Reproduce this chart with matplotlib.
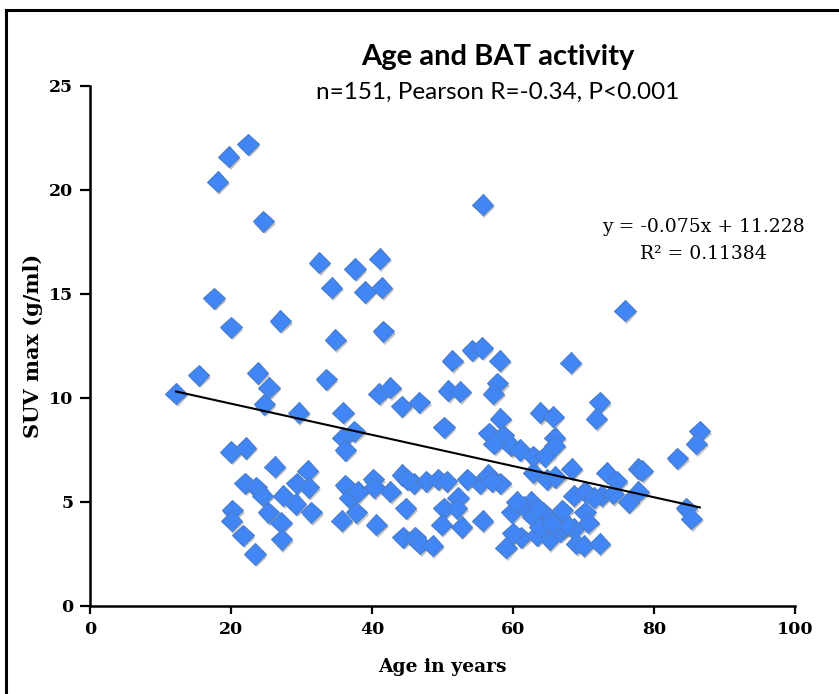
import matplotlib
matplotlib.use("Agg")
import matplotlib.pyplot as plt
import matplotlib.patheffects as pe
from matplotlib.lines import Line2D
import numpy as np

age = [12.2, 15.4, 17.6, 18.1, 19.7, 22.4, 24.6, 20.0, 27.0, 23.8, 25.4, 24.7, 29.6, 20.0, 22.1,
       26.2, 22.0, 23.6, 29.3, 27.4, 29.2, 20.2, 25.3, 27.1, 20.1, 21.7, 27.2, 23.4,
       30.9, 31.0, 31.4, 32.5, 37.6, 41.1, 34.3, 39.0, 41.4, 34.8, 41.6, 33.5, 41.0, 42.6, 44.2,
       46.7, 35.9, 37.5, 35.9, 36.2, 36.2, 36.8, 37.8, 35.7, 40.2, 40.3, 42.6, 40.6, 44.3, 45.9,
       47.7, 49.4, 44.8, 44.4, 46.1, 46.8, 48.6,
       55.7, 51.4, 54.2, 55.6, 58.1, 50.8, 52.5, 57.8, 57.2, 50.2, 58.2, 56.6, 58.6, 59.7, 57.3,
       50.6, 50.2, 52.2, 52.0, 52.7, 49.9, 55.3, 56.5, 58.2, 55.7, 59.8, 59.0,
       61.0, 62.9, 63.9, 65.7, 65.9, 65.9, 64.5, 68.3, 68.2, 62.9, 64.8, 61.2, 62.6, 61.5, 64.3,
       66.4, 68.6, 68.6, 65.2, 63.4, 66.7, 67.1, 62.8, 67.6, 63.8, 69.0,
       75.9, 72.3, 71.8, 86.5, 86.0, 83.3, 77.8, 78.3, 73.3, 74.7, 70.2, 72.6, 74.2, 76.4, 77.8,
       70.2, 70.7, 70.0, 72.3, 84.6, 85.3,
       63.5, 65.5, 60.5, 67.0, 71.5, 53.5, 45.0, 38.0, 24.5, 66.0, 60.0, 57.0]
suv = [10.2, 11.1, 14.8, 20.4, 21.6, 22.2, 18.5, 13.4, 13.7, 11.2, 10.5, 9.7, 9.3, 7.4, 7.6,
       6.7, 5.9, 5.7, 5.9, 5.3, 4.9, 4.6, 4.5, 4.0, 4.1, 3.4, 3.2, 2.5,
       6.5, 5.7, 4.5, 16.5, 16.2, 16.7, 15.3, 15.1, 15.3, 12.8, 13.2, 10.9, 10.2, 10.5, 9.6,
       9.8, 9.3, 8.4, 8.1, 7.5, 5.8, 5.2, 4.5, 4.1, 6.1, 5.7, 5.5, 3.9, 6.3, 5.9,
       6.0, 6.1, 4.7, 3.3, 3.3, 3.0, 2.9,
       19.3, 11.8, 12.3, 12.4, 11.8, 10.35, 10.3, 10.7, 10.2, 8.6, 9.0, 8.3, 8.2, 7.7, 7.8,
       6.0, 4.7, 5.2, 4.7, 3.8, 3.9, 5.9, 6.3, 5.9, 4.1, 4.5, 2.8,
       7.5, 7.2, 9.3, 9.1, 8.1, 7.7, 7.2, 6.6, 11.7, 6.4, 6.1, 3.3, 5.0, 4.8, 4.5,
       4.2, 5.3, 3.7, 3.2, 3.4, 3.6, 3.8, 4.3, 3.9, 3.8, 3.0,
       14.2, 9.8, 9.0, 8.4, 7.8, 7.1, 6.6, 6.5, 6.4, 6.0, 5.5, 5.3, 5.4, 5.0, 5.5,
       4.5, 4.0, 2.9, 3.0, 4.7, 4.2,
       4.7, 4.0, 5.0, 4.6, 5.2, 6.1, 6.1, 5.5, 5.3, 6.2, 3.5, 6.0]

trend_slope = -0.075
trend_intercept = 11.228
x_ticks = [0, 20, 40, 60, 80, 100]
y_ticks = [0, 5, 10, 15, 20, 25]

W, H = 839, 694
fig = plt.figure(figsize=(W / 100, H / 100), dpi=100)
ax = fig.add_axes([90 / W, 1 - 606 / H, (795 - 90) / W, (606 - 86) / H])

ax.plot(age, suv, linestyle='none', marker='D', markersize=10.8,
        markerfacecolor='#4285f4', markeredgecolor='#4a7fcc', markeredgewidth=0.8,
        path_effects=[pe.SimplePatchShadow(offset=(1.2, -1.8), shadow_rgbFace='#555555', alpha=0.35),
                      pe.Normal()], zorder=2)

xs = np.array([min(age), max(age)])
ax.plot(xs, trend_intercept + trend_slope * xs, color='black', lw=1.5, zorder=3)

ax.set_xlim(0, 100)
ax.set_ylim(0, 25)
ax.set_xticks(x_ticks)
ax.set_yticks(y_ticks)
for s in ['top', 'right']:
    ax.spines[s].set_visible(False)
for s in ['left', 'bottom']:
    ax.spines[s].set_linewidth(1.8)
ax.tick_params(axis='both', direction='out', width=1.6, length=6, labelsize=12.5, pad=5)
ax.tick_params(axis='y', length=7)
for lab in ax.get_xticklabels() + ax.get_yticklabels():
    lab.set_fontfamily('DejaVu Serif')
    lab.set_fontweight('bold')

ax.set_xlabel('Age in years', fontfamily='DejaVu Serif', fontweight='bold', fontsize=13.5, labelpad=14)
ax.set_ylabel('SUV max (g/ml)', fontfamily='DejaVu Serif', fontweight='bold', fontsize=15, labelpad=4)

fig.text(498 / W, 1 - 57 / H, 'Age and BAT activity', ha='center', va='center',
         fontfamily='Lato', fontweight='bold', fontsize=21)
fig.text(498 / W, 1 - 92 / H, 'n=151, Pearson R=-0.34, P<0.001', ha='center', va='center',
         fontfamily='Lato', fontsize=17.5)

fig.text(703 / W, 1 - 227 / H, 'y = -0.075x + 11.228', ha='center', va='center',
         fontfamily='DejaVu Serif', fontsize=13.5)
fig.text(703 / W, 1 - 254 / H, 'R² = 0.11384', ha='center', va='center',
         fontfamily='DejaVu Serif', fontsize=13.5)

fig.add_artist(Line2D([6 / W, 6 / W], [0, 1 - 10 / H], color='black', lw=2.2))
fig.add_artist(Line2D([6 / W, 1], [1 - 10 / H, 1 - 10 / H], color='black', lw=2.2))

fig.savefig('out.png', dpi=100)
